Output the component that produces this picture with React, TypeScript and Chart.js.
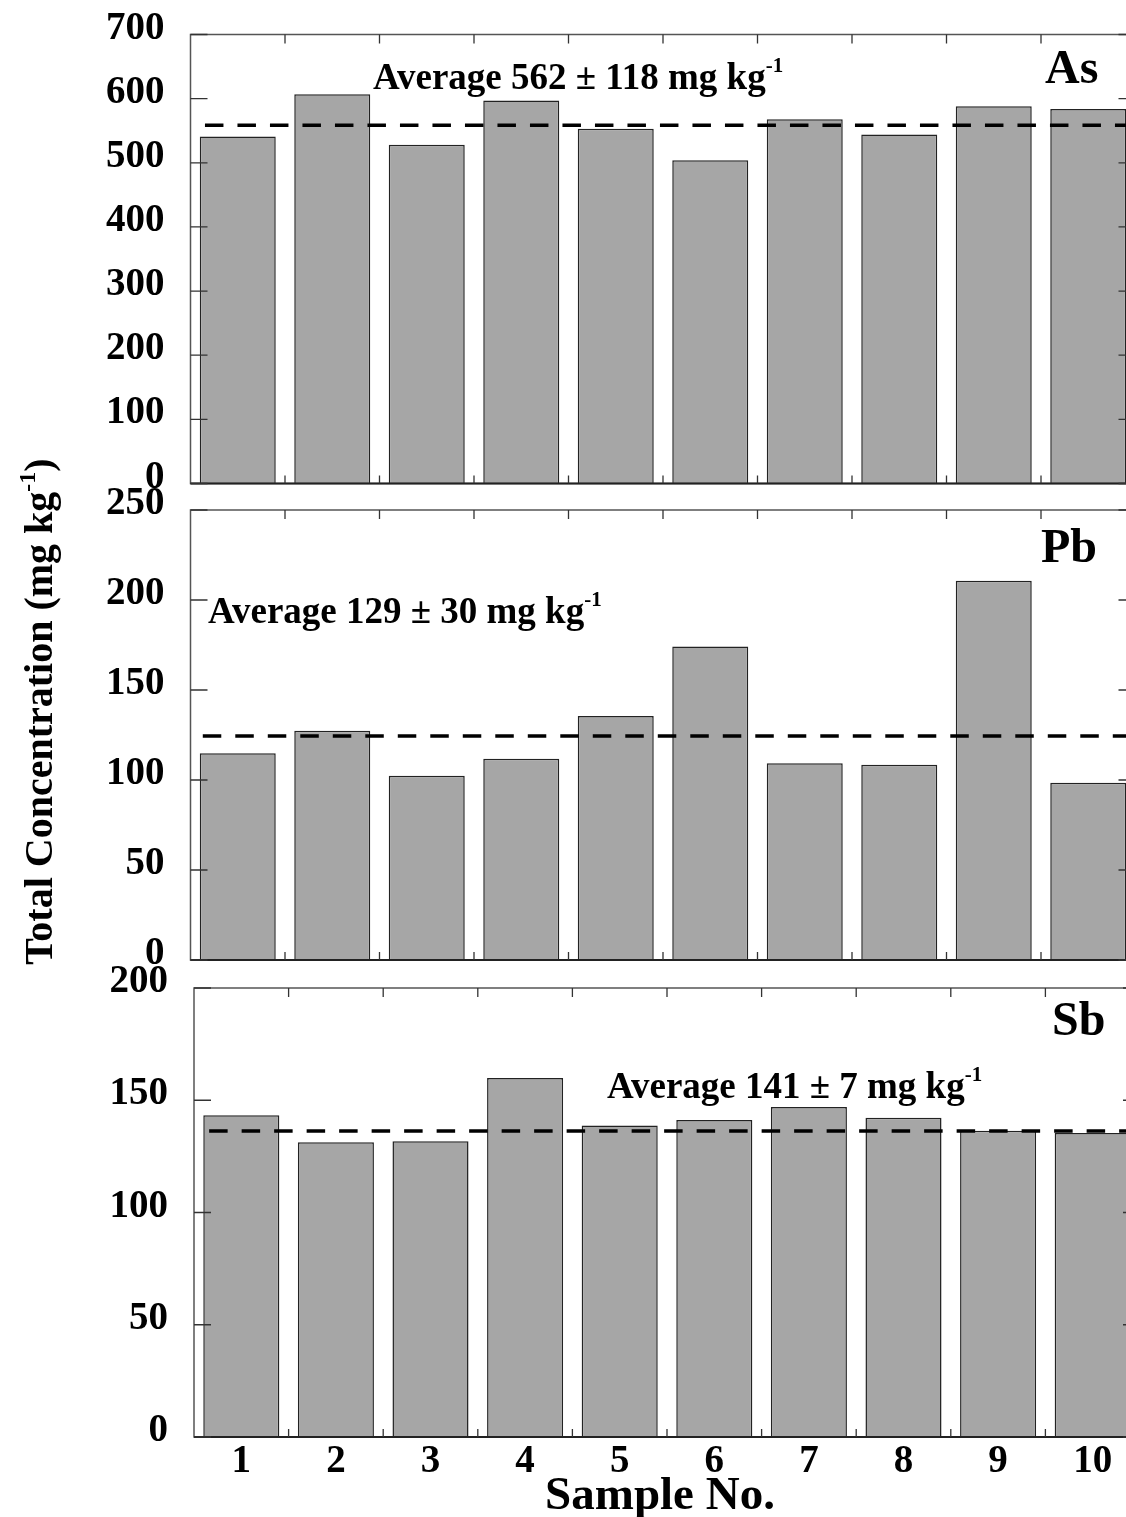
import React, { useEffect, useRef } from 'react';
import { Chart, registerables } from 'chart.js';

Chart.register(...registerables);

// ---------- data ----------
const samples = ['1', '2', '3', '4', '5', '6', '7', '8', '9', '10'];
const asValues = [541, 607, 528, 597, 553, 504, 568, 544, 588, 584];
const pbValues = [114.8, 127.4, 102.4, 111.8, 135.6, 174.1, 109.3, 108.5, 210.7, 98.5];
const sbValues = [143.3, 131.3, 131.7, 159.9, 138.7, 141.2, 147.0, 142.2, 136.4, 135.4];
const elementNames = ['As', 'Pb', 'Sb'];
const averageLevels = [558.5, 124.4, 136.3];
const averageTexts = ['Average 562 ± 118 mg kg', 'Average 129 ± 30 mg kg', 'Average 141 ± 7 mg kg'];
const unitExponent = '-1';
const yMaxes = [700, 250, 200];
const ySteps = [100, 50, 50];
const xTitle = 'Sample No.';
const yTitleMain = 'Total Concentration (mg kg';
const yTitleTail = ')';
const seriesList = [asValues, pbValues, sbValues];

// ---------- layout ----------
const CANVAS_W = 1150;
const CANVAS_H = 1517;
const FONT = '"Liberation Serif", "Times New Roman", serif';
const areas = [
  { left: 190.5, top: 34.5, right: 1135.5, bottom: 483.5 },
  { left: 190.5, top: 510, right: 1135.5, bottom: 960 },
  { left: 194, top: 988, right: 1140, bottom: 1437 },
];
const dashStarts = [0.153, 0.13, 0.16];
const avgTextPos = [
  { x: 373, y: 89 },
  { x: 208, y: 622.5 },
  { x: 607, y: 1098 },
];
const namePos = [
  { x: 1045, y: 83 },
  { x: 1041, y: 562 },
  { x: 1052, y: 1035 },
];

function drawWithSup(ctx: CanvasRenderingContext2D, main: string, sup: string, tail: string, x: number, y: number, size: number, supSize: number, rise: number) {
  ctx.font = `bold ${size}px ${FONT}`;
  ctx.fillText(main, x, y);
  let w = ctx.measureText(main).width;
  ctx.font = `bold ${supSize}px ${FONT}`;
  ctx.fillText(sup, x + w, y - rise);
  w += ctx.measureText(sup).width;
  if (tail) {
    ctx.font = `bold ${size}px ${FONT}`;
    ctx.fillText(tail, x + w, y);
  }
}

function measureWithSup(ctx: CanvasRenderingContext2D, main: string, sup: string, tail: string, size: number, supSize: number) {
  ctx.font = `bold ${size}px ${FONT}`;
  let w = ctx.measureText(main).width + ctx.measureText(tail).width;
  ctx.font = `bold ${supSize}px ${FONT}`;
  w += ctx.measureText(sup).width;
  return w;
}

function makePlugin(idx: number) {
  return {
    id: 'frame' + idx,
    afterDraw(chart: any) {
      const { ctx, chartArea: a, scales } = chart;
      const y = scales.y;
      const x = scales.x;
      ctx.save();
      // frame
      ctx.strokeStyle = '#555';
      ctx.lineWidth = 1.5;
      ctx.strokeRect(a.left, a.top, a.right - a.left, a.bottom - a.top);
      ctx.strokeStyle = '#222';
      ctx.lineWidth = 2;
      ctx.beginPath();
      ctx.moveTo(a.left, a.bottom);
      ctx.lineTo(a.right, a.bottom);
      ctx.stroke();
      // y ticks (inward, both sides)
      ctx.strokeStyle = '#333';
      ctx.lineWidth = 1.3;
      ctx.beginPath();
      y.ticks.forEach((t: any) => {
        const py = y.getPixelForValue(t.value);
        ctx.moveTo(a.left, py);
        ctx.lineTo(a.left + 17, py);
        ctx.moveTo(a.right - 17, py);
        ctx.lineTo(a.right, py);
      });
      // x ticks at category boundaries (inward, top and bottom)
      for (let i = 0; i < samples.length - 1; i++) {
        const px = x.getPixelForValue(i + 0.5);
        ctx.moveTo(px, a.top);
        ctx.lineTo(px, a.top + 9);
        ctx.moveTo(px, a.bottom);
        ctx.lineTo(px, a.bottom - 8);
      }
      ctx.stroke();

      // texts
      ctx.fillStyle = '#000';
      ctx.textAlign = 'left';
      ctx.textBaseline = 'alphabetic';
      drawWithSup(ctx, averageTexts[idx], unitExponent, '', avgTextPos[idx].x, avgTextPos[idx].y, 37, 21, 17);
      ctx.font = `bold 48px ${FONT}`;
      ctx.fillText(elementNames[idx], namePos[idx].x, namePos[idx].y);

      if (idx === 2) {
        ctx.textAlign = 'center';
        ctx.font = `bold 47px ${FONT}`;
        ctx.fillText(xTitle, 660, 1509);
        ctx.textAlign = 'left';
      }

      if (idx === 1) {
        // shared y-axis title
        ctx.translate(52, 711.5);
        ctx.rotate(-Math.PI / 2);
        const total = measureWithSup(ctx, yTitleMain, unitExponent, yTitleTail, 40, 24);
        drawWithSup(ctx, yTitleMain, unitExponent, yTitleTail, -total / 2, 0, 40, 24, 17);
      }
      ctx.restore();
    },
  };
}

function makeConfig(idx: number): any {
  const a = areas[idx];
  const isLast = idx === 2;
  const tickFont = { family: FONT, size: 39, weight: 'bold' as const, lineHeight: 1 };
  return {
    type: 'bar',
    data: {
      labels: samples,
      datasets: [
        {
          type: 'line',
          data: [
            { x: dashStarts[idx], y: averageLevels[idx] },
            { x: samples.length, y: averageLevels[idx] },
          ],
          xAxisID: 'x2',
          yAxisID: 'y',
          borderColor: '#000',
          borderWidth: 3.5,
          borderDash: [18.5, 14],
          pointRadius: 0,
          fill: false,
          order: 0,
        },
        {
          type: 'bar',
          data: seriesList[idx],
          xAxisID: 'x',
          yAxisID: 'y',
          backgroundColor: '#a6a6a6',
          borderColor: '#222',
          borderWidth: 1.5,
          barPercentage: 0.804,
          categoryPercentage: 1,
          grouped: false,
          order: 1,
        },
      ],
    },
    options: {
      responsive: false,
      animation: false,
      devicePixelRatio: 1,
      layout: {
        padding: {
          left: 0,
          top: a.top,
          right: CANVAS_W - a.right,
          bottom: isLast ? 0 : CANVAS_H - a.bottom,
        },
      },
      plugins: { legend: { display: false }, tooltip: { enabled: false } },
      events: [],
      scales: {
        x: {
          type: 'category',
          position: 'bottom',
          display: isLast,
          offset: true,
          grid: { display: false, drawTicks: false, offset: true },
          border: { display: false },
          ticks: { font: tickFont, color: '#000', padding: 5, maxRotation: 0, autoSkip: false },
          title: { display: false },
          afterFit: (s: any) => {
            if (isLast) s.height = CANVAS_H - a.bottom;
            s.paddingLeft = 0;
            s.paddingRight = 0;
          },
        },
        x2: {
          type: 'linear',
          position: 'bottom',
          display: false,
          offset: false,
          grid: { offset: false },
          min: 0,
          max: samples.length,
        },
        y: {
          type: 'linear',
          position: 'left',
          min: 0,
          max: yMaxes[idx],
          grid: { display: false, drawTicks: false },
          border: { display: false },
          ticks: { stepSize: ySteps[idx], font: tickFont, color: '#000', padding: 26, labelOffset: -6 },
          afterFit: (s: any) => {
            s.width = a.left;
            s.paddingTop = 0;
            s.paddingBottom = 0;
          },
        },
      },
    },
    plugins: [makePlugin(idx)],
  };
}

export default function App() {
  const r0 = useRef<HTMLCanvasElement>(null);
  const r1 = useRef<HTMLCanvasElement>(null);
  const r2 = useRef<HTMLCanvasElement>(null);
  useEffect(() => {
    const refs = [r0, r1, r2];
    const charts = refs.map((r, i) => new Chart(r.current as HTMLCanvasElement, makeConfig(i)));
    return () => charts.forEach((c) => c.destroy());
  }, []);
  const cs: React.CSSProperties = { position: 'absolute', left: 0, top: 0, width: CANVAS_W, height: CANVAS_H };
  return (
    <div style={{ position: 'fixed', left: 0, top: 0, width: 1126, height: 1517, overflow: 'hidden', background: '#fff' }}>
      <canvas ref={r0} width={CANVAS_W} height={CANVAS_H} style={cs} />
      <canvas ref={r1} width={CANVAS_W} height={CANVAS_H} style={cs} />
      <canvas ref={r2} width={CANVAS_W} height={CANVAS_H} style={cs} />
    </div>
  );
}
